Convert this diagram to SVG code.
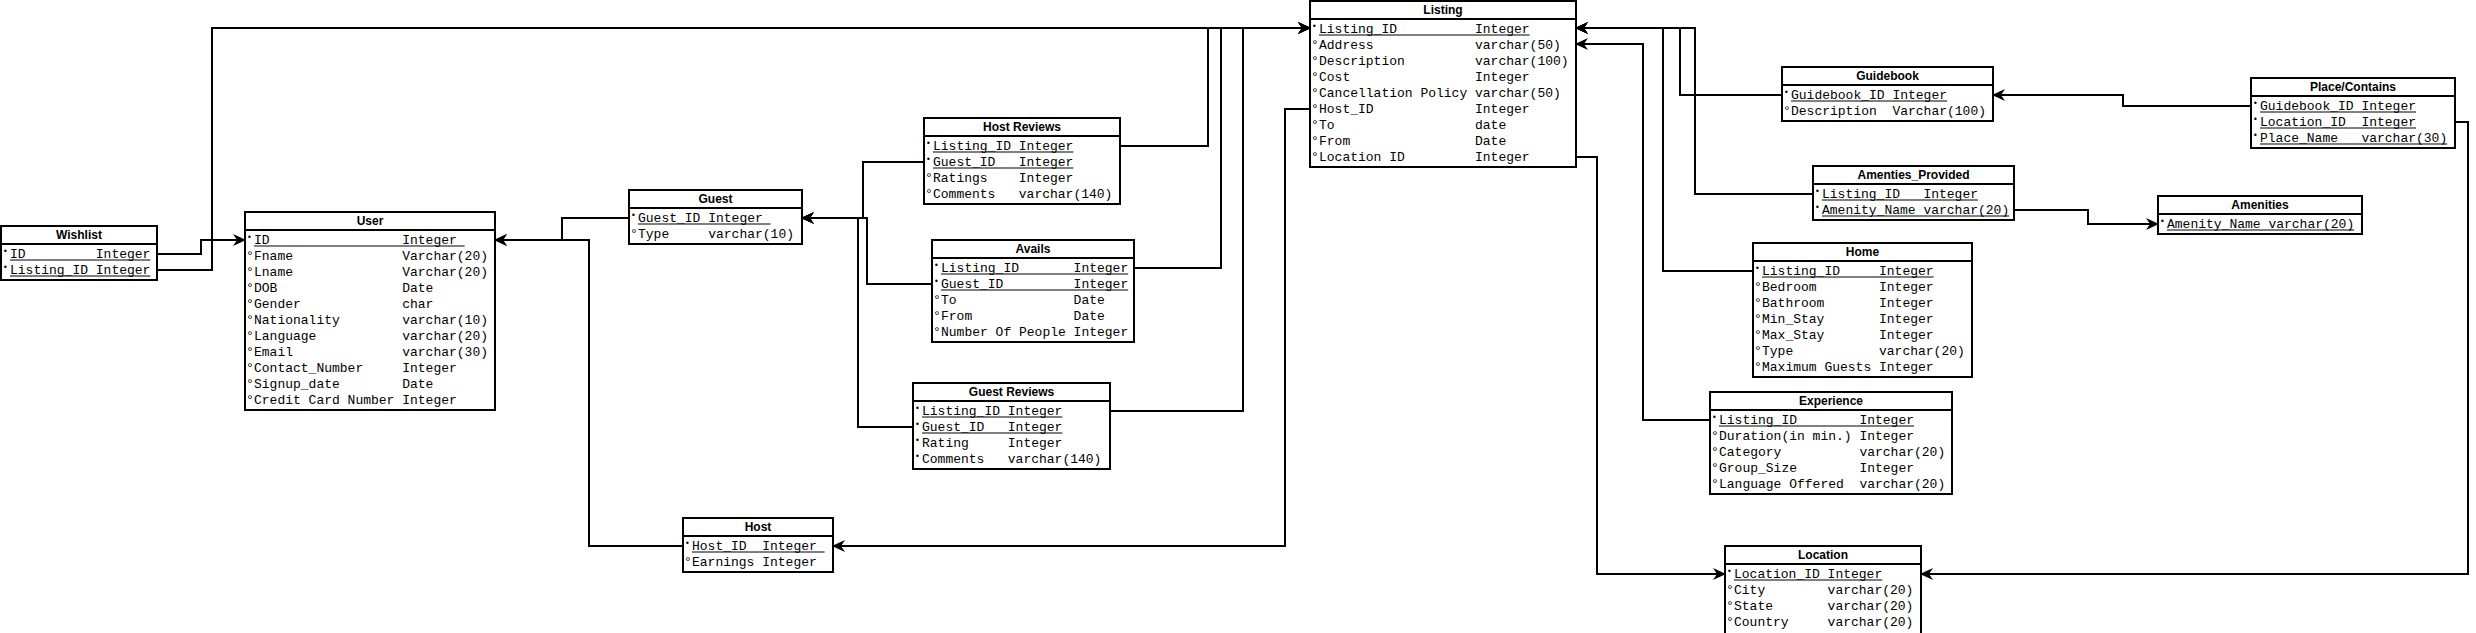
<svg xmlns="http://www.w3.org/2000/svg" width="2476" height="633" viewBox="0 0 2476 633">
<style>
.box{fill:#fff;stroke:#000;stroke-width:2}
.sep{stroke:#000;stroke-width:2}
.t{font-family:"Liberation Sans",Arial,sans-serif;font-weight:bold;font-size:12px;text-anchor:middle;fill:#000}
.r{font-family:"Liberation Mono","Courier New",monospace;font-size:13px;fill:#000}
.k{font-family:"DejaVu Sans",sans-serif;font-size:8px;fill:#000}
.u{stroke:#000;stroke-width:1}
.c{fill:none;stroke:#000;stroke-width:2;marker-end:url(#a)}
.n{fill:none;stroke:#000;stroke-width:2}
</style>
<defs>
<marker id="a" markerWidth="14" markerHeight="12" refX="12" refY="6" orient="auto" markerUnits="userSpaceOnUse"><path d="M0,0 L13,6 L0,12 L4,6 Z" fill="#000"/></marker>
</defs>
<g id="connectors">
<path class="c" d="M157,270 H212 V28 H1310"/>
<path class="c" d="M1120,146 H1208 V28 H1310"/>
<path class="c" d="M1134,268 H1221 V28 H1310"/>
<path class="c" d="M1110,411 H1243 V28 H1310"/>
<path class="c" d="M1782,95 H1680 V28 H1576"/>
<path class="c" d="M1813,194 H1695 V28 H1576"/>
<path class="c" d="M1753,271 H1663 V28 H1576"/>
<path class="c" d="M1710,420 H1643 V44 H1576"/>
<path class="c" d="M1576,157 H1597 V574 H1725"/>
<path class="c" d="M1310,109 H1285 V546 H833"/>
<path class="c" d="M2251,106 H2123 V95 H1993"/>
<path class="c" d="M2455,122 H2468 V574 H1921"/>
<path class="c" d="M2014,210 H2088 V224 H2158"/>
<path class="c" d="M629,218 H562 V240 H495"/>
<path class="c" d="M683,546 H589 V240 H495"/>
<path class="c" d="M157,254 H201 V240 H245"/>
<path class="c" d="M924,162 H863 V218 H802"/>
<path class="c" d="M932,284 H867 V218 H802"/>
<path class="c" d="M913,427 H858 V218 H802"/>
</g>

<g id="wishlist">
<rect class="box" x="1" y="226" width="156" height="54"/>
<line class="sep" x1="1" y1="244" x2="157" y2="244"/>
<text class="t" x="79" y="239">Wishlist</text>
<text class="k" x="3" y="254">•</text><text class="r" x="10" y="258">ID</text><text class="r" x="95.8" y="258">Integer</text><line class="u" x1="10" y1="260" x2="150.4" y2="260"/>
<text class="k" x="3" y="270">•</text><text class="r" x="10" y="274">Listing_ID</text><text class="r" x="95.8" y="274">Integer</text><line class="u" x1="10" y1="276" x2="150.4" y2="276"/>
</g>

<g id="user">
<rect class="box" x="245" y="212" width="250" height="198"/>
<line class="sep" x1="245" y1="230" x2="495" y2="230"/>
<text class="t" x="370" y="225">User</text>
<text class="k" x="247" y="240">•</text><text class="r" x="254" y="244">ID</text><text class="r" x="402.2" y="244">Integer</text><line class="u" x1="254" y1="246" x2="464.6" y2="246"/>
<text class="r" x="246" y="260">°</text><text class="r" x="254" y="260">Fname</text><text class="r" x="402.2" y="260">Varchar(20)</text>
<text class="r" x="246" y="276">°</text><text class="r" x="254" y="276">Lname</text><text class="r" x="402.2" y="276">Varchar(20)</text>
<text class="r" x="246" y="292">°</text><text class="r" x="254" y="292">DOB</text><text class="r" x="402.2" y="292">Date</text>
<text class="r" x="246" y="308">°</text><text class="r" x="254" y="308">Gender</text><text class="r" x="402.2" y="308">char</text>
<text class="r" x="246" y="324">°</text><text class="r" x="254" y="324">Nationality</text><text class="r" x="402.2" y="324">varchar(10)</text>
<text class="r" x="246" y="340">°</text><text class="r" x="254" y="340">Language</text><text class="r" x="402.2" y="340">varchar(20)</text>
<text class="r" x="246" y="356">°</text><text class="r" x="254" y="356">Email</text><text class="r" x="402.2" y="356">varchar(30)</text>
<text class="r" x="246" y="372">°</text><text class="r" x="254" y="372">Contact_Number</text><text class="r" x="402.2" y="372">Integer</text>
<text class="r" x="246" y="388">°</text><text class="r" x="254" y="388">Signup_date</text><text class="r" x="402.2" y="388">Date</text>
<text class="r" x="246" y="404">°</text><text class="r" x="254" y="404">Credit Card Number</text><text class="r" x="402.2" y="404">Integer</text>
</g>

<g id="guest">
<rect class="box" x="629" y="190" width="173" height="54"/>
<line class="sep" x1="629" y1="208" x2="802" y2="208"/>
<text class="t" x="715.5" y="203">Guest</text>
<text class="k" x="631" y="218">•</text><text class="r" x="638" y="222">Guest_ID</text><text class="r" x="708.2" y="222">Integer</text><line class="u" x1="638" y1="224" x2="770.6" y2="224"/>
<text class="r" x="630" y="238">°</text><text class="r" x="638" y="238">Type</text><text class="r" x="708.2" y="238">varchar(10)</text>
</g>

<g id="host-reviews">
<rect class="box" x="924" y="118" width="196" height="86"/>
<line class="sep" x1="924" y1="136" x2="1120" y2="136"/>
<text class="t" x="1022" y="131">Host Reviews</text>
<text class="k" x="926" y="146">•</text><text class="r" x="933" y="150">Listing_ID</text><text class="r" x="1018.8" y="150">Integer</text><line class="u" x1="933" y1="152" x2="1073.4" y2="152"/>
<text class="k" x="926" y="162">•</text><text class="r" x="933" y="166">Guest_ID</text><text class="r" x="1018.8" y="166">Integer</text><line class="u" x1="933" y1="168" x2="1073.4" y2="168"/>
<text class="r" x="925" y="182">°</text><text class="r" x="933" y="182">Ratings</text><text class="r" x="1018.8" y="182">Integer</text>
<text class="r" x="925" y="198">°</text><text class="r" x="933" y="198">Comments</text><text class="r" x="1018.8" y="198">varchar(140)</text>
</g>

<g id="avails">
<rect class="box" x="932" y="240" width="202" height="102"/>
<line class="sep" x1="932" y1="258" x2="1134" y2="258"/>
<text class="t" x="1033" y="253">Avails</text>
<text class="k" x="934" y="268">•</text><text class="r" x="941" y="272">Listing_ID</text><text class="r" x="1073.6" y="272">Integer</text><line class="u" x1="941" y1="274" x2="1128.2" y2="274"/>
<text class="k" x="934" y="284">•</text><text class="r" x="941" y="288">Guest_ID</text><text class="r" x="1073.6" y="288">Integer</text><line class="u" x1="941" y1="290" x2="1128.2" y2="290"/>
<text class="r" x="933" y="304">°</text><text class="r" x="941" y="304">To</text><text class="r" x="1073.6" y="304">Date</text>
<text class="r" x="933" y="320">°</text><text class="r" x="941" y="320">From</text><text class="r" x="1073.6" y="320">Date</text>
<text class="r" x="933" y="336">°</text><text class="r" x="941" y="336">Number Of People</text><text class="r" x="1073.6" y="336">Integer</text>
</g>

<g id="guest-reviews">
<rect class="box" x="913" y="383" width="197" height="86"/>
<line class="sep" x1="913" y1="401" x2="1110" y2="401"/>
<text class="t" x="1011.5" y="396">Guest Reviews</text>
<text class="k" x="915" y="411">•</text><text class="r" x="922" y="415">Listing_ID</text><text class="r" x="1007.8" y="415">Integer</text><line class="u" x1="922" y1="417" x2="1062.4" y2="417"/>
<text class="k" x="915" y="427">•</text><text class="r" x="922" y="431">Guest_ID</text><text class="r" x="1007.8" y="431">Integer</text><line class="u" x1="922" y1="433" x2="1062.4" y2="433"/>
<text class="k" x="915" y="443">•</text><text class="r" x="922" y="447">Rating</text><text class="r" x="1007.8" y="447">Integer</text>
<text class="k" x="915" y="459">•</text><text class="r" x="922" y="463">Comments</text><text class="r" x="1007.8" y="463">varchar(140)</text>
</g>

<g id="host">
<rect class="box" x="683" y="518" width="150" height="54"/>
<line class="sep" x1="683" y1="536" x2="833" y2="536"/>
<text class="t" x="758" y="531">Host</text>
<text class="k" x="685" y="546">•</text><text class="r" x="692" y="550">Host_ID</text><text class="r" x="762.2" y="550">Integer</text><line class="u" x1="692" y1="552" x2="824.6" y2="552"/>
<text class="r" x="684" y="566">°</text><text class="r" x="692" y="566">Earnings</text><text class="r" x="762.2" y="566">Integer</text>
</g>

<g id="listing">
<rect class="box" x="1310" y="1" width="266" height="166"/>
<line class="sep" x1="1310" y1="19" x2="1576" y2="19"/>
<text class="t" x="1443" y="14">Listing</text>
<text class="k" x="1312" y="29">•</text><text class="r" x="1319" y="33">Listing_ID</text><text class="r" x="1475" y="33">Integer</text><line class="u" x1="1319" y1="35" x2="1529.6" y2="35"/>
<text class="r" x="1311" y="49">°</text><text class="r" x="1319" y="49">Address</text><text class="r" x="1475" y="49">varchar(50)</text>
<text class="r" x="1311" y="65">°</text><text class="r" x="1319" y="65">Description</text><text class="r" x="1475" y="65">varchar(100)</text>
<text class="r" x="1311" y="81">°</text><text class="r" x="1319" y="81">Cost</text><text class="r" x="1475" y="81">Integer</text>
<text class="r" x="1311" y="97">°</text><text class="r" x="1319" y="97">Cancellation Policy</text><text class="r" x="1475" y="97">varchar(50)</text>
<text class="r" x="1311" y="113">°</text><text class="r" x="1319" y="113">Host_ID</text><text class="r" x="1475" y="113">Integer</text>
<text class="r" x="1311" y="129">°</text><text class="r" x="1319" y="129">To</text><text class="r" x="1475" y="129">date</text>
<text class="r" x="1311" y="145">°</text><text class="r" x="1319" y="145">From</text><text class="r" x="1475" y="145">Date</text>
<text class="r" x="1311" y="161">°</text><text class="r" x="1319" y="161">Location ID</text><text class="r" x="1475" y="161">Integer</text>
</g>

<g id="guidebook">
<rect class="box" x="1782" y="67" width="211" height="54"/>
<line class="sep" x1="1782" y1="85" x2="1993" y2="85"/>
<text class="t" x="1887.5" y="80">Guidebook</text>
<text class="k" x="1784" y="95">•</text><text class="r" x="1791" y="99">Guidebook_ID</text><text class="r" x="1892.4" y="99">Integer</text><line class="u" x1="1791" y1="101" x2="1947" y2="101"/>
<text class="r" x="1783" y="115">°</text><text class="r" x="1791" y="115">Description</text><text class="r" x="1892.4" y="115">Varchar(100)</text>
</g>

<g id="amenties-provided">
<rect class="box" x="1813" y="166" width="201" height="54"/>
<line class="sep" x1="1813" y1="184" x2="2014" y2="184"/>
<text class="t" x="1913.5" y="179">Amenties_Provided</text>
<text class="k" x="1815" y="194">•</text><text class="r" x="1822" y="198">Listing_ID</text><text class="r" x="1923.4" y="198">Integer</text><line class="u" x1="1822" y1="200" x2="1978" y2="200"/>
<text class="k" x="1815" y="210">•</text><text class="r" x="1822" y="214">Amenity_Name</text><text class="r" x="1923.4" y="214">varchar(20)</text><line class="u" x1="1822" y1="216" x2="2009.2" y2="216"/>
</g>

<g id="place-contains">
<rect class="box" x="2251" y="78" width="204" height="70"/>
<line class="sep" x1="2251" y1="96" x2="2455" y2="96"/>
<text class="t" x="2353" y="91">Place/Contains</text>
<text class="k" x="2253" y="106">•</text><text class="r" x="2260" y="110">Guidebook_ID</text><text class="r" x="2361.4" y="110">Integer</text><line class="u" x1="2260" y1="112" x2="2416" y2="112"/>
<text class="k" x="2253" y="122">•</text><text class="r" x="2260" y="126">Location_ID</text><text class="r" x="2361.4" y="126">Integer</text><line class="u" x1="2260" y1="128" x2="2416" y2="128"/>
<text class="k" x="2253" y="138">•</text><text class="r" x="2260" y="142">Place_Name</text><text class="r" x="2361.4" y="142">varchar(30)</text><line class="u" x1="2260" y1="144" x2="2447.2" y2="144"/>
</g>

<g id="amenities">
<rect class="box" x="2158" y="196" width="204" height="38"/>
<line class="sep" x1="2158" y1="214" x2="2362" y2="214"/>
<text class="t" x="2260" y="209">Amenities</text>
<text class="k" x="2160" y="224">•</text><text class="r" x="2167" y="228">Amenity_Name</text><text class="r" x="2268.4" y="228">varchar(20)</text><line class="u" x1="2167" y1="230" x2="2354.2" y2="230"/>
</g>

<g id="home">
<rect class="box" x="1753" y="243" width="219" height="134"/>
<line class="sep" x1="1753" y1="261" x2="1972" y2="261"/>
<text class="t" x="1862.5" y="256">Home</text>
<text class="k" x="1755" y="271">•</text><text class="r" x="1762" y="275">Listing_ID</text><text class="r" x="1879" y="275">Integer</text><line class="u" x1="1762" y1="277" x2="1933.6" y2="277"/>
<text class="r" x="1754" y="291">°</text><text class="r" x="1762" y="291">Bedroom</text><text class="r" x="1879" y="291">Integer</text>
<text class="r" x="1754" y="307">°</text><text class="r" x="1762" y="307">Bathroom</text><text class="r" x="1879" y="307">Integer</text>
<text class="r" x="1754" y="323">°</text><text class="r" x="1762" y="323">Min_Stay</text><text class="r" x="1879" y="323">Integer</text>
<text class="r" x="1754" y="339">°</text><text class="r" x="1762" y="339">Max_Stay</text><text class="r" x="1879" y="339">Integer</text>
<text class="r" x="1754" y="355">°</text><text class="r" x="1762" y="355">Type</text><text class="r" x="1879" y="355">varchar(20)</text>
<text class="r" x="1754" y="371">°</text><text class="r" x="1762" y="371">Maximum Guests</text><text class="r" x="1879" y="371">Integer</text>
</g>

<g id="experience">
<rect class="box" x="1710" y="392" width="242" height="102"/>
<line class="sep" x1="1710" y1="410" x2="1952" y2="410"/>
<text class="t" x="1831" y="405">Experience</text>
<text class="k" x="1712" y="420">•</text><text class="r" x="1719" y="424">Listing_ID</text><text class="r" x="1859.4" y="424">Integer</text><line class="u" x1="1719" y1="426" x2="1914" y2="426"/>
<text class="r" x="1711" y="440">°</text><text class="r" x="1719" y="440">Duration(in min.)</text><text class="r" x="1859.4" y="440">Integer</text>
<text class="r" x="1711" y="456">°</text><text class="r" x="1719" y="456">Category</text><text class="r" x="1859.4" y="456">varchar(20)</text>
<text class="r" x="1711" y="472">°</text><text class="r" x="1719" y="472">Group_Size</text><text class="r" x="1859.4" y="472">Integer</text>
<text class="r" x="1711" y="488">°</text><text class="r" x="1719" y="488">Language Offered</text><text class="r" x="1859.4" y="488">varchar(20)</text>
</g>

<g id="location">
<rect class="box" x="1725" y="546" width="196" height="88"/>
<line class="sep" x1="1725" y1="564" x2="1921" y2="564"/>
<text class="t" x="1823" y="559">Location</text>
<text class="k" x="1727" y="574">•</text><text class="r" x="1734" y="578">Location_ID</text><text class="r" x="1827.6" y="578">Integer</text><line class="u" x1="1734" y1="580" x2="1882.2" y2="580"/>
<text class="r" x="1726" y="594">°</text><text class="r" x="1734" y="594">City</text><text class="r" x="1827.6" y="594">varchar(20)</text>
<text class="r" x="1726" y="610">°</text><text class="r" x="1734" y="610">State</text><text class="r" x="1827.6" y="610">varchar(20)</text>
<text class="r" x="1726" y="626">°</text><text class="r" x="1734" y="626">Country</text><text class="r" x="1827.6" y="626">varchar(20)</text>
</g>
</svg>
